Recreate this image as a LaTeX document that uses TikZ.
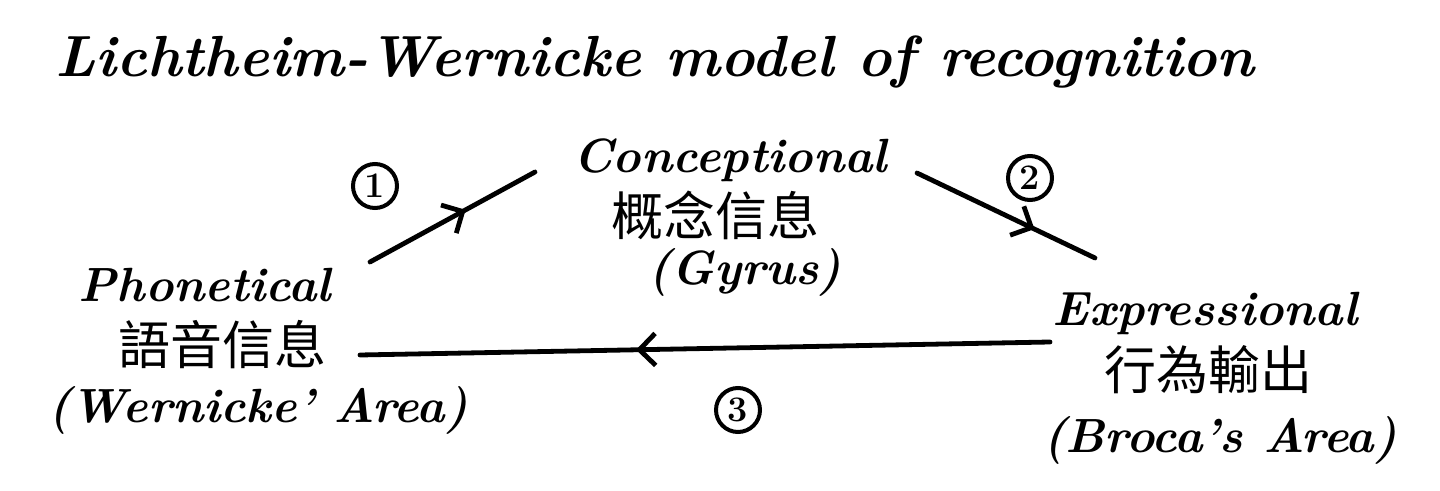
\documentclass[tikz,border=0pt]{standalone}
\usepackage{fontspec}
\newfontfamily\cjk{Noto Sans CJK TC}
\usetikzlibrary{arrows.meta,decorations.markings}

\begin{document}
\begin{tikzpicture}[x=0.5pt,y=-0.5pt,
    lbl/.style={font=\fontsize{24}{30}\selectfont\bfseries\itshape, inner sep=0pt},
    zh/.style={font=\fontsize{26}{30}\selectfont\cjk, inner sep=0pt},
    num/.style={draw, circle, line width=2pt, inner sep=0pt, minimum size=22pt, font=\fontsize{18}{20}\selectfont\bfseries},
    link/.style={line width=2.4pt, line cap=round, postaction={decorate},
        decoration={markings, mark=at position #1 with {\arrow[line width=2.4pt]{Straight Barb[length=8pt,width=16pt]}}}}]
    \useasboundingbox (0,0) rectangle (1440,491);

    % Title
    \node[font=\fontsize{29}{38}\selectfont\bfseries\itshape] (title) at (655,62) {Lichtheim-Wernicke model of recognition};

    % Conceptional
    \node[lbl] (con) at (730,160) {Conceptional};
    \node[zh] (conzh) at (715,215) {概念信息};
    \node[lbl] (congy) at (745,272) {(Gyrus)};

    % Phonetical
    \node[lbl] (pho) at (205,285) {Phonetical};
    \node[zh] (phozh) at (222,345) {語音信息};
    \node[lbl] (phoar) at (258,410) {(Wernicke' Area)};

    % Expressional
    \node[lbl] (exp) at (1205,313) {Expressional};
    \node[zh] (expzh) at (1208,370) {行為輸出};
    \node[lbl] (expar) at (1220,440) {(Broca's Area)};

    % Step numbers
    \node[num] (n1) at (375,186) {1};
    \node[num] (n2) at (1030,178) {2};
    \node[num] (n3) at (738,410) {3};

    % Line ends
    \coordinate (a1) at (370,262);
    \coordinate (b1) at (535,172);
    \coordinate (a2) at (917,173);
    \coordinate (b2) at (1095,258);
    \coordinate (a3) at (1050,342);
    \coordinate (b3) at (360,355);

    % Arrows
    \draw[link=0.58] (a1) -- (b1);
    \draw[link=0.66] (a2) -- (b2);
    \draw[link=0.6] (a3) -- (b3);
\end{tikzpicture}
\end{document}
